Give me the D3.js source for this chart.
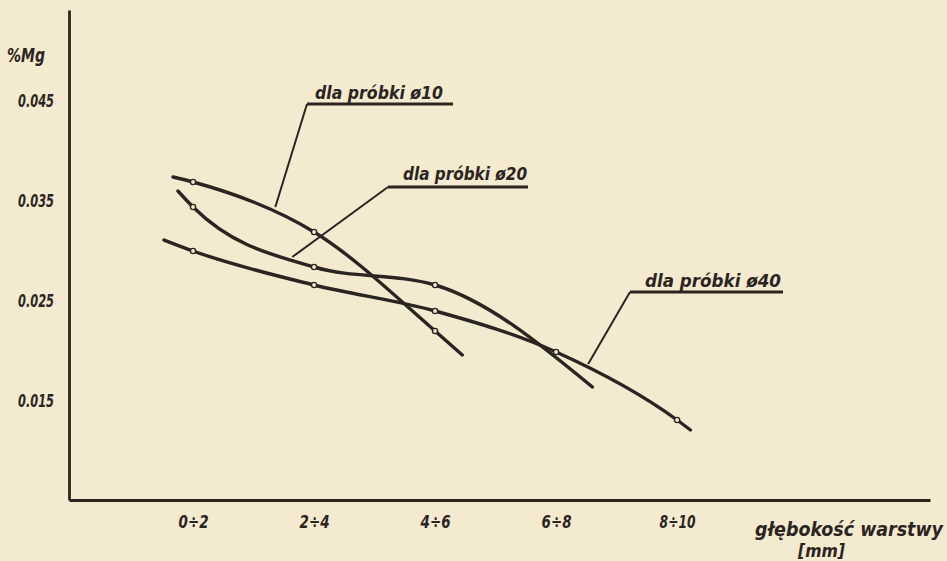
<!DOCTYPE html>
<html>
<head>
<meta charset="utf-8">
<script src="https://cdn.jsdelivr.net/npm/d3@7"></script>
<style>
  html, body { margin: 0; padding: 0; background: #f4ead0; }
  svg { display: block; }
  .hand { font-family: "DejaVu Sans Condensed", "DejaVu Sans", sans-serif; font-style: oblique; font-weight: bold; fill: #2b2521; }
</style>
</head>
<body>
<svg id="chart" width="947" height="561"></svg>
<script>
// ---- data ----
const categories = ["0÷2", "2÷4", "4÷6", "6÷8", "8÷10"];   // depth ranges [mm]
const depthMid   = [1, 3, 5, 7, 9];                        // mid-depth of each range [mm]
const yTicks      = [0.015, 0.025, 0.035, 0.045];
const yTickLabels = ["0.015", "0.025", "0.035", "0.045"];

// measured %Mg (marked points)
const mg10 = [0.0368, 0.0318, 0.0219, null, null];
const mg20 = [0.0343, 0.0283, 0.0265, null, null];
const mg40 = [0.0299, 0.0265, 0.0239, 0.0198, 0.0130];

// drawn curve ends beyond the marked points: [depth mm, %Mg]
const start10 = [0.67, 0.0373], end10 = [5.45, 0.0195];
const start20 = [0.75, 0.0359], end20 = [7.6, 0.0163];
const start40 = [0.52, 0.0310], end40 = [9.22, 0.0120];

const seriesNames = ["dla próbki ø10", "dla próbki ø20", "dla próbki ø40"];
// point on each curve where the label leader touches: [depth mm, %Mg]
const leaderAnchor = [[2.36, 0.0343], [2.64, 0.0293], [7.53, 0.0186]];

// ---- drawing ----
const ink = "#2b2521";
const paper = "#f4ead0";
const svg = d3.select("#chart");

const x = d3.scaleLinear().domain([-1.05, 13.18]).range([69, 930]);
const y = d3.scaleLinear().domain([0.005, 0.054]).range([500, 10]);

// axes
const yAxis = d3.axisLeft(y).tickValues(yTicks)
  .tickFormat((d, i) => yTickLabels[i]).tickSize(0).tickSizeOuter(0).tickPadding(15);
const gy = svg.append("g").attr("transform", `translate(${x.range()[0]},0)`).call(yAxis);
gy.select(".domain").attr("stroke", ink).attr("stroke-width", 2.8);
gy.selectAll("text").attr("class", "hand").attr("font-size", 17).attr("dy", "0.36em")
  .attr("textLength", 36).attr("lengthAdjust", "spacingAndGlyphs");

const xAxis = d3.axisBottom(x).tickValues(depthMid)
  .tickFormat((d, i) => categories[i]).tickSize(0).tickSizeOuter(0).tickPadding(15);
const gx = svg.append("g").attr("transform", `translate(0,${y.range()[0]})`).call(xAxis);
gx.select(".domain").attr("stroke", ink).attr("stroke-width", 2.8);
gx.selectAll("text").attr("class", "hand").attr("font-size", 18)
  .attr("textLength", (d, i) => i === 4 ? 36 : 30).attr("lengthAdjust", "spacingAndGlyphs");

// axis titles
svg.append("text").attr("class", "hand").attr("x", 7).attr("y", 62)
  .attr("font-size", 19).attr("textLength", 38).attr("lengthAdjust", "spacingAndGlyphs").text("%Mg");
svg.append("text").attr("class", "hand").attr("x", 755).attr("y", 536)
  .attr("font-size", 19).attr("textLength", 188).attr("lengthAdjust", "spacingAndGlyphs").text("głębokość warstwy");
svg.append("text").attr("class", "hand").attr("x", 798).attr("y", 557)
  .attr("font-size", 17).attr("textLength", 47).attr("lengthAdjust", "spacingAndGlyphs").text("[mm]");

// curves
const line = d3.line().x(d => x(d[0])).y(d => y(d[1])).curve(d3.curveMonotoneX);
const series = [
  { vals: mg10, start: start10, end: end10 },
  { vals: mg20, start: start20, end: end20 },
  { vals: mg40, start: start40, end: end40 }
];
series.forEach(s => {
  const pts = depthMid.map((d, i) => [d, s.vals[i]]).filter(p => p[1] != null);
  s.pts = pts;
  svg.append("path").datum([s.start, ...pts, s.end])
    .attr("d", line).attr("fill", "none").attr("stroke", ink)
    .attr("stroke-width", 3.4).attr("stroke-linecap", "round");
});
series.forEach(s => {
  svg.append("g").selectAll("circle").data(s.pts).join("circle")
    .attr("cx", d => x(d[0])).attr("cy", d => y(d[1])).attr("r", 2.6)
    .attr("fill", paper).attr("stroke", ink).attr("stroke-width", 1.4);
});

// labels with underline and leader
const labelLayout = [
  { tx: 315, ty: 99,  tw: 128, ux0: 307, ux1: 453, uy: 104 },
  { tx: 403, ty: 180, tw: 124, ux0: 388, ux1: 528, uy: 187 },
  { tx: 645, ty: 287, tw: 136, ux0: 630, ux1: 783, uy: 292 }
];
seriesNames.forEach((name, i) => {
  const L = labelLayout[i];
  svg.append("text").attr("class", "hand").attr("x", L.tx).attr("y", L.ty)
    .attr("font-size", 17).attr("textLength", L.tw).attr("lengthAdjust", "spacingAndGlyphs").text(name);
  svg.append("line").attr("x1", L.ux0).attr("x2", L.ux1).attr("y1", L.uy).attr("y2", L.uy)
    .attr("stroke", ink).attr("stroke-width", 3);
  svg.append("line").attr("x1", L.ux0).attr("y1", L.uy)
    .attr("x2", x(leaderAnchor[i][0])).attr("y2", y(leaderAnchor[i][1]))
    .attr("stroke", ink).attr("stroke-width", 2);
});
</script>
</body>
</html>
